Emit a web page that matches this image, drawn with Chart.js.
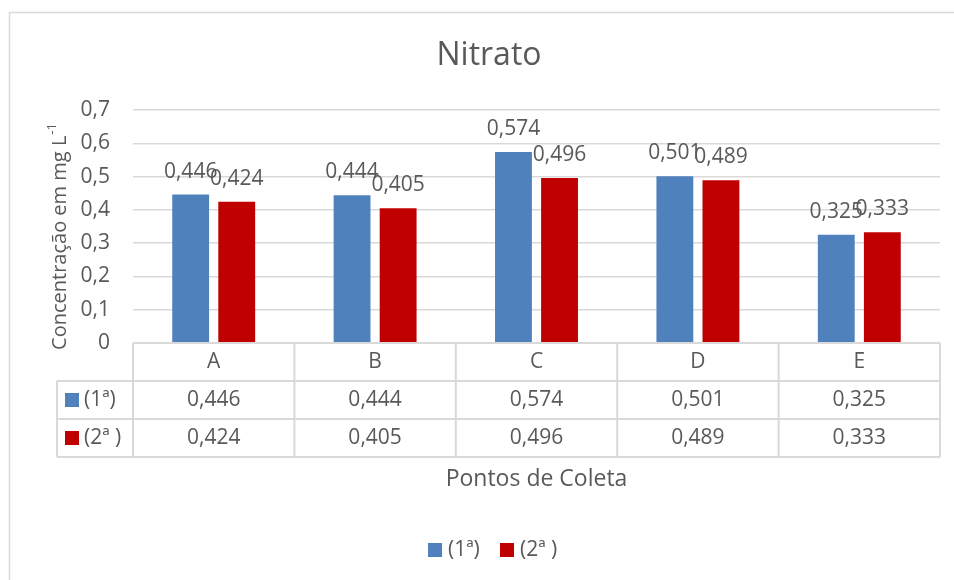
<!DOCTYPE html>
<html>
<head>
<meta charset="utf-8">
<script src="https://cdn.jsdelivr.net/npm/chart.js@4.4.1/dist/chart.umd.min.js"></script>
<style>
  body { margin: 0; background: #fff; }
  canvas { display: block; }
</style>
</head>
<body>
<canvas id="chartNitrato" width="954" height="580"></canvas>
<script>
// dados do gráfico
const categorias = ["A", "B", "C", "D", "E"];
const serie1 = [0.446, 0.444, 0.574, 0.501, 0.325];
const serie2 = [0.424, 0.405, 0.496, 0.489, 0.333];
const nomesSeries = ["(1ª)", "(2ª )"];
const coresSeries = ["#4F81BD", "#C00000"];
const ticksY = ["0", "0,1", "0,2", "0,3", "0,4", "0,5", "0,6", "0,7"];

const FONTE = "'Open Sans', sans-serif";
const COR_TEXTO = "#595959";
const COR_LINHA = "#D9D9D9";

function fmt(v) {
    return v.toFixed(3).replace(".", ",");
}

// ==============================================
// plugin: moldura, título, rótulos, tabela e legenda
// ==============================================
const extrasPlugin = {
    id: "extras",
    beforeDraw(chart) {
        const ctx = chart.ctx;
        ctx.save();
        ctx.fillStyle = "#fff";
        ctx.fillRect(0, 0, chart.width, chart.height);
        ctx.strokeStyle = COR_LINHA;
        ctx.lineWidth = 1.5;
        ctx.strokeRect(9.5, 12.5, chart.width + 20, chart.height + 20);
        ctx.restore();
    },
    afterDraw(chart) {
        const ctx = chart.ctx;
        const area = chart.chartArea;
        const x = chart.scales.x;
        ctx.save();

        // título
        ctx.fillStyle = COR_TEXTO;
        ctx.font = "32px " + FONTE;
        ctx.textAlign = "center";
        ctx.textBaseline = "middle";
        ctx.fillText("Nitrato", 489, 56);

        // rótulos de dados acima das barras
        ctx.font = "21px " + FONTE;
        ctx.textBaseline = "alphabetic";
        chart.data.datasets.forEach((ds, i) => {
            chart.getDatasetMeta(i).data.forEach((bar, j) => {
                ctx.fillText(fmt(ds.data[j]), bar.x, bar.y - 17);
            });
        });

        // título do eixo Y (com sobrescrito)
        ctx.save();
        ctx.translate(60, 237);
        ctx.rotate(-Math.PI / 2);
        const base = "Concentração em mg L";
        ctx.font = "13px " + FONTE;
        const wSup = ctx.measureText("-1").width;
        ctx.font = "20px " + FONTE;
        const wBase = ctx.measureText(base).width;
        const inicio = -(wBase + wSup) / 2;
        ctx.textAlign = "left";
        ctx.textBaseline = "middle";
        ctx.fillText(base, inicio, 0);
        ctx.font = "13px " + FONTE;
        ctx.fillText("-1", inicio + wBase + 1, -8);
        ctx.restore();

        // tabela de dados
        const passo = x.getPixelForValue(1) - x.getPixelForValue(0);
        const linhas = [area.bottom, area.bottom + 38, area.bottom + 76, area.bottom + 114];
        const esq = 57;
        ctx.strokeStyle = COR_LINHA;
        ctx.lineWidth = 2;
        ctx.beginPath();
        // horizontais
        ctx.moveTo(area.left, linhas[0]); ctx.lineTo(area.right, linhas[0]);
        for (let r = 1; r < linhas.length; r++) {
            ctx.moveTo(esq, linhas[r]); ctx.lineTo(area.right, linhas[r]);
        }
        // verticais
        for (let c = 0; c <= categorias.length; c++) {
            const xx = x.getPixelForValue(c) - passo / 2;
            ctx.moveTo(xx, linhas[0]); ctx.lineTo(xx, linhas[3]);
        }
        ctx.moveTo(esq, linhas[1]); ctx.lineTo(esq, linhas[3]);
        ctx.stroke();

        ctx.fillStyle = COR_TEXTO;
        ctx.font = "21px " + FONTE;
        ctx.textAlign = "center";
        ctx.textBaseline = "middle";
        categorias.forEach((cat, j) => {
            const cx = x.getPixelForValue(j);
            ctx.fillText(cat, cx, (linhas[0] + linhas[1]) / 2);
            ctx.fillText(fmt(serie1[j]), cx, (linhas[1] + linhas[2]) / 2);
            ctx.fillText(fmt(serie2[j]), cx, (linhas[2] + linhas[3]) / 2);
        });
        ctx.textAlign = "left";
        nomesSeries.forEach((nome, i) => {
            const cy = (linhas[i + 1] + linhas[i + 2]) / 2;
            ctx.fillStyle = coresSeries[i];
            ctx.fillRect(65, cy - 7, 14, 14);
            ctx.fillStyle = COR_TEXTO;
            ctx.fillText(nome, 84, cy);
        });

        // título do eixo X
        ctx.textAlign = "center";
        ctx.font = "23px " + FONTE;
        ctx.fillText("Pontos de Coleta", (area.left + area.right) / 2, 479);

        // legenda
        ctx.font = "21px " + FONTE;
        const legX = [428, 500];
        nomesSeries.forEach((nome, i) => {
            ctx.fillStyle = coresSeries[i];
            ctx.fillRect(legX[i], 543, 14, 14);
            ctx.fillStyle = COR_TEXTO;
            ctx.textAlign = "left";
            ctx.fillText(nome, legX[i] + 20, 550);
        });

        ctx.restore();
    }
};

new Chart(document.getElementById("chartNitrato"), {
    type: "bar",
    data: {
        labels: categorias,
        datasets: [
            { label: nomesSeries[0], data: serie1, backgroundColor: coresSeries[0] },
            { label: nomesSeries[1], data: serie2, backgroundColor: coresSeries[1] }
        ]
    },
    options: {
        responsive: false,
        animation: false,
        events: [],
        layout: { padding: { left: 0, top: 110, right: 14, bottom: 237 } },
        datasets: {
            bar: { categoryPercentage: 0.571, barPercentage: 0.8 }
        },
        plugins: {
            legend: { display: false },
            title: { display: false },
            tooltip: { enabled: false }
        },
        scales: {
            x: { display: false },
            y: {
                min: 0,
                max: 0.7,
                afterFit: (s) => { s.width = 133; },
                border: { display: false },
                grid: { color: COR_LINHA, lineWidth: 1.5, drawTicks: false },
                ticks: {
                    stepSize: 0.1,
                    padding: 23,
                    color: COR_TEXTO,
                    font: { family: FONTE, size: 21 },
                    callback: (v, i) => ticksY[i]
                }
            }
        }
    },
    plugins: [extrasPlugin]
});
</script>
</body>
</html>
